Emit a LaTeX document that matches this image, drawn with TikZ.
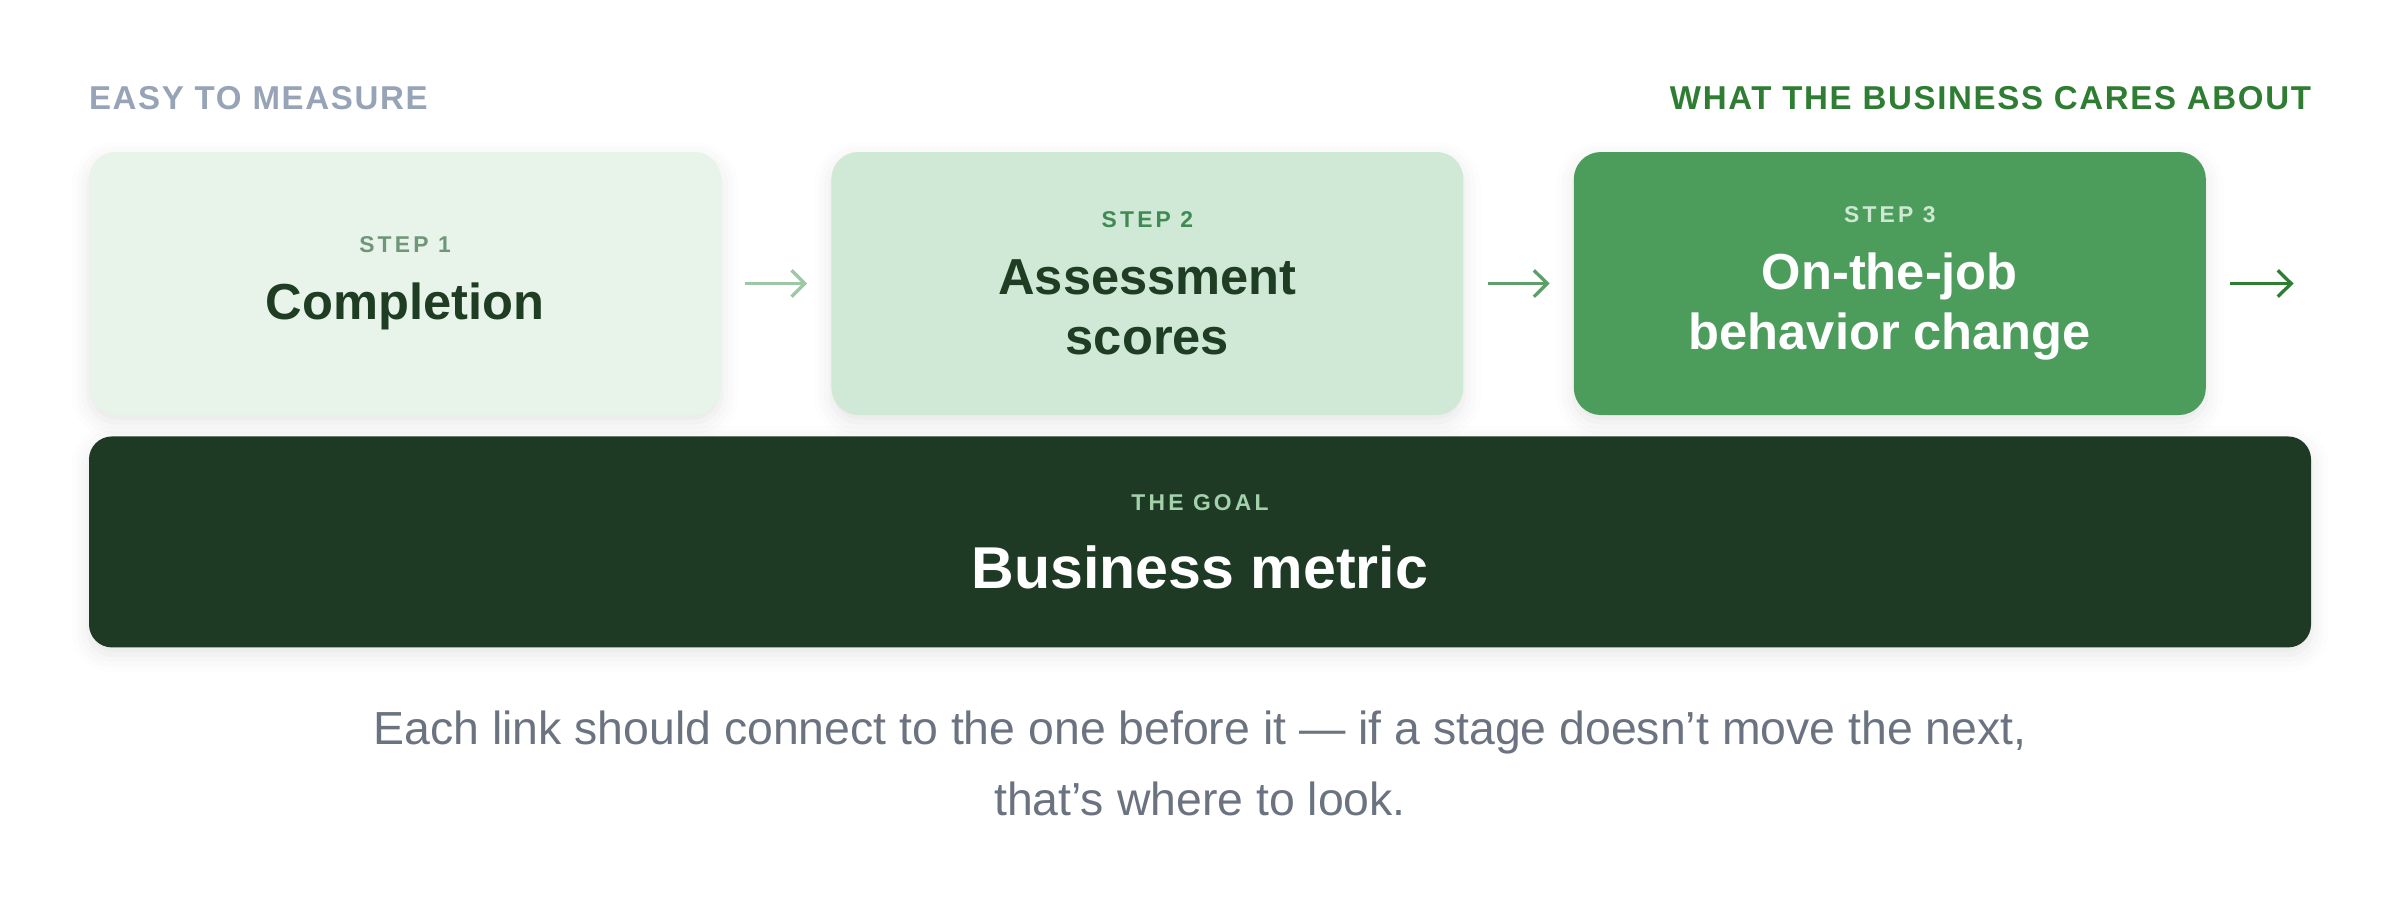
\documentclass[tikz,border=0pt]{standalone}
\usepackage{fontspec}
\setmainfont{Liberation Sans}
\newfontfamily\wideCaps[LetterSpace=14]{Liberation Sans}
\newfontfamily\headCaps[LetterSpace=5]{Liberation Sans}
\usepackage{xcolor}
\usepackage{tikz}
\usetikzlibrary{arrows.meta, positioning, shadows.blur}

\definecolor{fillOne}{HTML}{E8F3EA}
\definecolor{fillTwo}{HTML}{D0E8D6}
\definecolor{fillThree}{HTML}{4C9D5C}
\definecolor{fillGoal}{HTML}{1F3A24}
\definecolor{titleDark}{HTML}{1E3D22}
\definecolor{lblOne}{HTML}{6E9678}
\definecolor{lblTwo}{HTML}{3F8A52}
\definecolor{lblThree}{HTML}{CDE9D2}
\definecolor{lblGoal}{HTML}{A3D1AB}
\definecolor{hdrGray}{HTML}{97A3B6}
\definecolor{hdrGreen}{HTML}{2E7D32}
\definecolor{capGray}{HTML}{6B7280}
\definecolor{arrOne}{HTML}{9DC8A5}
\definecolor{arrTwo}{HTML}{5E9E6B}
\definecolor{arrThree}{HTML}{2E7D32}

\newcommand{\steplbl}{\wideCaps\bfseries\fontsize{6.5}{8}\selectfont}
\newcommand{\hdrtxt}{\headCaps\bfseries\fontsize{9.4}{11}\selectfont}

\begin{document}
\begin{tikzpicture}[
  every node/.style={align=center},
  softshadow/.style={blur shadow={shadow xshift=0pt, shadow yshift=-2pt, shadow blur radius=5pt, shadow opacity=10}},
  stepbox/.style={rounded corners=0.27cm, minimum width=6.32cm, minimum height=2.63cm,
    inner sep=0pt, font=\fontsize{14.4}{17.1}\selectfont\bfseries, softshadow},
  goalbox/.style={rounded corners=0.23cm, minimum width=22.22cm, minimum height=2.11cm,
    inner sep=0pt, fill=fillGoal, text=white, font=\fontsize{16.8}{20}\selectfont\bfseries, softshadow},
  hdr/.style={inner sep=0pt, font=\hdrtxt},
  flowarr/.style={-{Straight Barb[length=3.8pt, width=7.5pt]}, line width=0.95pt,
    shorten <=0.235cm, shorten >=0.235cm},
]
\useasboundingbox (0,0) rectangle (24,-9.08);

% the three steps
\node[stepbox, fill=fillOne, text=titleDark] (s1) at (4.05,-2.835)
  {{\steplbl\color{lblOne} STEP 1}\\[2pt] Completion};
\node[stepbox, fill=fillTwo, text=titleDark, right=1.09cm of s1] (s2)
  {{\steplbl\color{lblTwo} STEP 2}\\[2pt] Assessment\\ scores};
\node[stepbox, fill=fillThree, text=white, right=1.09cm of s2] (s3)
  {{\steplbl\color{lblThree} STEP 3}\\[2pt] On-the-job\\ behavior change};
\coordinate[right=0.87cm of s3] (out);

\draw[flowarr, arrOne] (s1) -- (s2);
\draw[flowarr, arrTwo] (s2) -- (s3);
\draw[flowarr, arrThree, shorten >=0pt] (s3) -- (out);

% goal
\node[goalbox, below=0.2cm of s1.south west, anchor=north west] (goal)
  {{\steplbl\color{lblGoal} THE GOAL}\\[2pt] Business metric};

% headers
\node[hdr, text=hdrGray, anchor=base west] (easy) at ([yshift=0.42cm]s1.north west) {EASY TO MEASURE};
\node[hdr, text=hdrGreen, anchor=base east] (cares) at (goal.east |- easy.base) {WHAT THE BUSINESS CARES ABOUT};

% caption
\node[below=0.62cm of goal, inner sep=0pt, text=capGray, font=\fontsize{13.2}{20.2}\selectfont] (note)
  {Each link should connect to the one before it — if a stage doesn’t move the next,\\ that’s where to look.};

\end{tikzpicture}
\end{document}
